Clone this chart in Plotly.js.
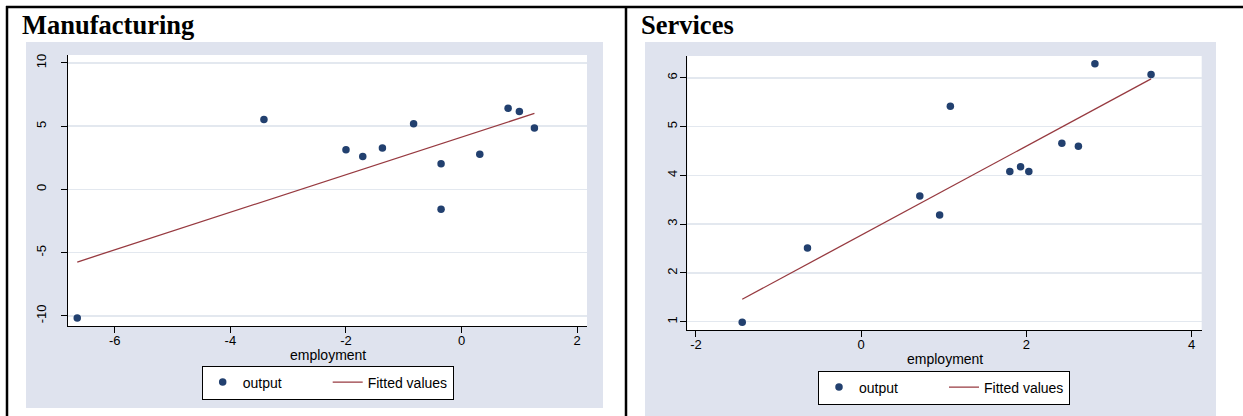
<!DOCTYPE html>
<html>
<head>
<meta charset="utf-8">
<script src="https://cdn.plot.ly/plotly-3.0.1.min.js"></script>
<style>
  html, body { margin: 0; padding: 0; background: #ffffff; }
  #chart { width: 1243px; height: 416px; }
</style>
</head>
<body>
<div id="chart"></div>
<script>
// ---- Data ----
var panelTitles = ["Manufacturing", "Services"];
var xAxisLabel = "employment";
var seriesNames = ["output", "Fitted values"];

// Manufacturing
var mfgEmployment = [-6.65, -3.42, -2.00, -1.71, -1.37, -0.83, -0.355, -0.355, 0.315, 0.805, 1.00, 1.26];
var mfgOutput     = [-10.16, 5.53, 3.13, 2.61, 3.27, 5.19, 2.03, -1.56, 2.79, 6.41, 6.17, 4.85];
var mfgFitX = [-6.65, 1.26];
var mfgFitY = [-5.74, 6.01];
var mfgXTicks = [-6, -4, -2, 0, 2];
var mfgYTicks = [-10, -5, 0, 5, 10];

// Services
var srvEmployment = [-1.44, -0.65, 0.71, 0.95, 1.08, 1.80, 1.93, 2.03, 2.43, 2.63, 2.83, 3.51];
var srvOutput     = [0.99, 2.51, 3.58, 3.19, 5.42, 4.08, 4.18, 4.08, 4.66, 4.60, 6.29, 6.07];
var srvFitX = [-1.44, 3.51];
var srvFitY = [1.46, 5.98];
var srvXTicks = [-2, 0, 2, 4];
var srvYTicks = [1, 2, 3, 4, 5, 6];

// ---- Styling ----
var W = 1243, H = 416;
function px(x) { return x / W; }
function py(y) { return 1 - y / H; }

var navy = "#22406f";
var maroon = "#973a40";
var regionGray = "#dfe3ee";
var gridCol = "#e3e8ef";
var sansFont = "Liberation Sans, Arial, sans-serif";
var serifFont = "Liberation Serif, Times New Roman, serif";

// plot-area pixel boxes
var L = {x0: 68, x1: 587, y0: 55, y1: 326};
var R = {x0: 687.3, x1: 1201.7, y0: 56, y1: 330};

var traces = [
  {x: mfgEmployment, y: mfgOutput, type: "scatter", mode: "markers", name: seriesNames[0],
   marker: {color: navy, size: 7.5}, xaxis: "x", yaxis: "y", legend: "legend"},
  {x: mfgFitX, y: mfgFitY, type: "scatter", mode: "lines", name: seriesNames[1],
   line: {color: maroon, width: 1.3}, xaxis: "x", yaxis: "y", legend: "legend"},
  {x: srvEmployment, y: srvOutput, type: "scatter", mode: "markers", name: seriesNames[0],
   marker: {color: navy, size: 7.5}, xaxis: "x2", yaxis: "y2", legend: "legend2"},
  {x: srvFitX, y: srvFitY, type: "scatter", mode: "lines", name: seriesNames[1],
   line: {color: maroon, width: 1.3}, xaxis: "x2", yaxis: "y2", legend: "legend2"}
];

function xAxisCfg(box, range, ticks, anchor) {
  return {
    domain: [px(box.x0), px(box.x1)], range: range, anchor: anchor,
    tickmode: "array", tickvals: ticks, ticktext: ticks.map(String),
    showgrid: false, zeroline: false,
    showline: true, linecolor: "#000", linewidth: 1.2,
    ticks: "outside", ticklen: 6, tickwidth: 1, tickcolor: "#000",
    ticklabelstandoff: -4,
    tickfont: {family: sansFont, size: 13, color: "#000"},
    fixedrange: true
  };
}
function yAxisCfg(box, range, ticks, anchor, standoff) {
  return {
    domain: [py(box.y1), py(box.y0)], range: range, anchor: anchor,
    tickmode: "array", tickvals: ticks, ticktext: ticks.map(String),
    showgrid: true, gridcolor: gridCol, gridwidth: 1.5, zeroline: false,
    showline: true, linecolor: "#000", linewidth: 1.2,
    ticks: "outside", ticklen: 6, tickwidth: 1, tickcolor: "#000",
    tickangle: -90, ticklabelstandoff: standoff,
    tickfont: {family: sansFont, size: 13, color: "#000"},
    fixedrange: true
  };
}

var shapes = [
  // light gray graph regions
  {type: "rect", xref: "paper", yref: "paper", x0: px(26), x1: px(603), y0: py(408), y1: py(42),
   fillcolor: regionGray, line: {width: 0}, layer: "below"},
  {type: "rect", xref: "paper", yref: "paper", x0: px(645), x1: px(1216), y0: py(420), y1: py(42),
   fillcolor: regionGray, line: {width: 0}, layer: "below"},
  // white plot regions
  {type: "rect", xref: "paper", yref: "paper", x0: px(L.x0), x1: px(L.x1), y0: py(L.y1), y1: py(L.y0),
   fillcolor: "#ffffff", line: {width: 0}, layer: "below"},
  {type: "rect", xref: "paper", yref: "paper", x0: px(R.x0), x1: px(R.x1), y0: py(R.y1), y1: py(R.y0),
   fillcolor: "#ffffff", line: {width: 0}, layer: "below"},
  // table borders
  {type: "line", xref: "paper", yref: "paper", x0: px(6), x1: px(1243), y0: py(7), y1: py(7),
   line: {color: "#000", width: 2.5}},
  {type: "line", xref: "paper", yref: "paper", x0: px(7), x1: px(7), y0: py(6), y1: py(420),
   line: {color: "#000", width: 2.5}},
  {type: "line", xref: "paper", yref: "paper", x0: px(626), x1: px(626), y0: py(6), y1: py(420),
   line: {color: "#000", width: 2.5}}
];

var annotations = [
  {text: "<b>" + panelTitles[0] + "</b>", xref: "paper", yref: "paper", x: px(20), y: py(25),
   xanchor: "left", yanchor: "middle", showarrow: false,
   font: {family: serifFont, size: 26.5, color: "#000"}},
  {text: "<b>" + panelTitles[1] + "</b>", xref: "paper", yref: "paper", x: px(639), y: py(25),
   xanchor: "left", yanchor: "middle", showarrow: false,
   font: {family: serifFont, size: 26.5, color: "#000"}},
  {text: xAxisLabel, xref: "paper", yref: "paper", x: px((L.x0 + L.x1) / 2), y: py(355),
   xanchor: "center", yanchor: "middle", showarrow: false,
   font: {family: sansFont, size: 14, color: "#000"}},
  {text: xAxisLabel, xref: "paper", yref: "paper", x: px((R.x0 + R.x1) / 2), y: py(359),
   xanchor: "center", yanchor: "middle", showarrow: false,
   font: {family: sansFont, size: 14, color: "#000"}}
];

function legendCfg(cx, top) {
  return {
    orientation: "h", x: px(cx), xanchor: "center", y: py(top), yanchor: "top",
    bgcolor: "#ffffff", bordercolor: "#000", borderwidth: 1,
    font: {family: sansFont, size: 14, color: "#000"},
    entrywidth: 80, entrywidthmode: "pixels",
    traceorder: "normal", itemclick: false, itemdoubleclick: false
  };
}

var layout = {
  width: W, height: H,
  margin: {l: 0, r: 0, t: 0, b: 0, pad: 0},
  paper_bgcolor: "#ffffff", plot_bgcolor: "rgba(0,0,0,0)",
  showlegend: true,
  xaxis: xAxisCfg(L, [-6.81, 2.17], mfgXTicks, "y"),
  yaxis: yAxisCfg(L, [-10.8, 10.63], mfgYTicks, "x", 10),
  xaxis2: xAxisCfg(R, [-2.105, 4.123], srvXTicks, "y2"),
  yaxis2: yAxisCfg(R, [0.83, 6.45], srvYTicks, "x2", -2),
  legend: legendCfg(327.7, 365.5),
  legend2: legendCfg(944, 370.5),
  shapes: shapes,
  annotations: annotations
};

Plotly.newPlot("chart", traces, layout, {staticPlot: true, displayModeBar: false});
</script>
</body>
</html>
